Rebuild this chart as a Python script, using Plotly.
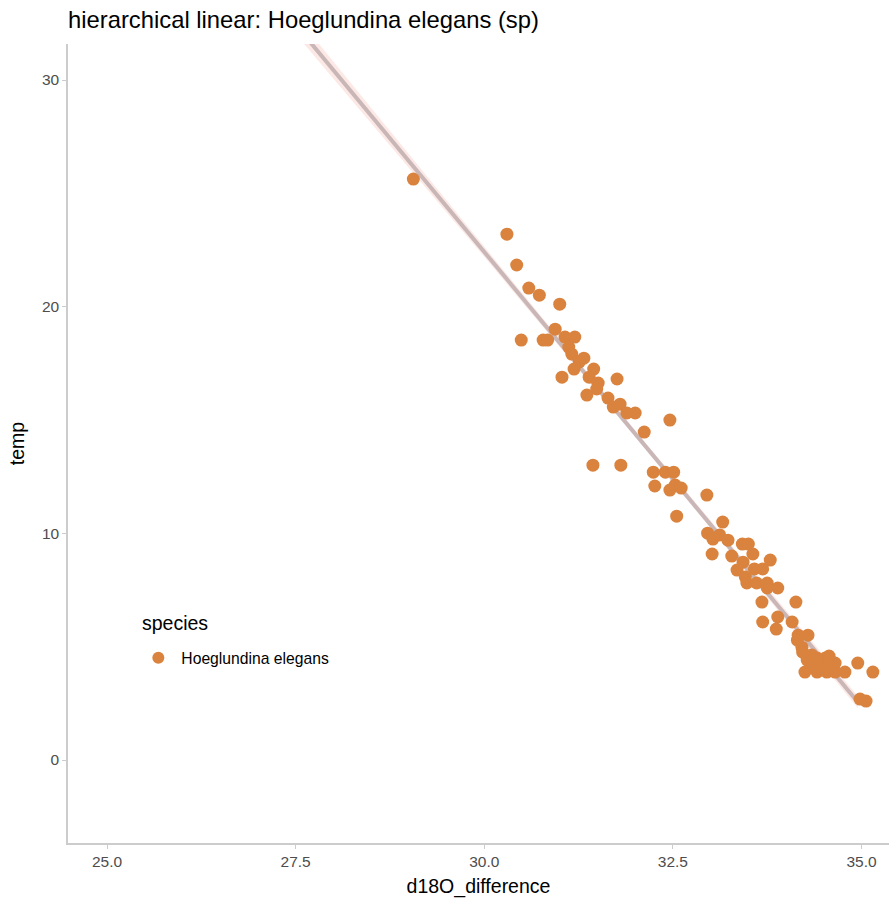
import plotly.graph_objects as go

# ---- data ----
d18O_difference = [
    29.06, 30.30, 30.43, 30.59, 30.73, 31.00, 30.94, 30.49, 30.78, 30.84,
    31.07, 31.20, 31.12, 31.16, 31.32, 31.26, 31.19, 31.45, 31.39, 31.03,
    31.51, 31.76, 31.36, 31.49, 31.64, 31.80, 31.71, 31.89, 32.00, 32.46,
    32.12, 31.44, 31.81, 32.24, 32.40, 32.51, 32.26, 32.46, 32.53, 32.61,
    32.55, 32.95, 33.16, 32.96, 33.12, 33.03, 33.23, 33.42, 33.50, 33.02,
    33.28, 33.56, 33.43, 33.79, 33.35, 33.58, 33.69, 33.46, 33.48, 33.61,
    33.75, 33.89, 33.75, 33.68, 34.13, 33.89, 33.69, 33.87, 34.08, 34.16,
    34.29, 34.15, 34.21, 34.22, 34.28, 34.41, 34.52, 34.61, 34.65, 34.36,
    34.45, 34.54, 34.25, 34.41, 34.54, 34.65, 34.78, 34.95, 35.15, 34.98,
    35.06, 34.34, 34.38, 34.57,
]
temp = [
    25.63, 23.20, 21.84, 20.82, 20.51, 20.11, 19.01, 18.53, 18.53, 18.53,
    18.66, 18.66, 18.22, 17.91, 17.73, 17.56, 17.25, 17.25, 16.89, 16.89,
    16.63, 16.81, 16.10, 16.37, 15.97, 15.70, 15.57, 15.31, 15.31, 15.00,
    14.47, 13.01, 13.01, 12.70, 12.70, 12.70, 12.09, 11.91, 12.13, 12.00,
    10.76, 11.69, 10.50, 10.01, 9.93, 9.75, 9.70, 9.53, 9.53, 9.09,
    9.00, 9.09, 8.73, 8.82, 8.38, 8.43, 8.43, 8.07, 7.81, 7.81,
    7.81, 7.59, 7.59, 6.97, 6.97, 6.31, 6.09, 5.78, 6.09, 5.51,
    5.51, 5.29, 4.98, 4.76, 4.41, 4.50, 4.50, 4.32, 4.28, 4.19,
    4.19, 4.10, 3.88, 3.88, 3.88, 3.88, 3.88, 4.28, 3.88, 2.69,
    2.60, 4.63, 4.41, 4.59,
]

# fitted line (hierarchical linear) and its ribbon
fit_x = [27.0, 28.0, 29.0, 30.0, 31.0, 32.0, 33.0, 34.0, 34.95]
fit_y = [34.45, 30.44, 26.43, 22.42, 18.41, 14.40, 10.39, 6.38, 2.56]
fit_halfwidth = [0.45, 0.38, 0.30, 0.22, 0.16, 0.14, 0.16, 0.20, 0.26]

species = "Hoeglundina elegans"
legend_title = "species"
title = "hierarchical linear: Hoeglundina elegans (sp)"

x_ticks = [25.0, 27.5, 30.0, 32.5, 35.0]
y_ticks = [0, 10, 20, 30]

FONT = "Liberation Sans, Arial, Helvetica, sans-serif"
POINT_COLOR = "#d9833f"

upper = [y + h for y, h in zip(fit_y, fit_halfwidth)]
lower = [y - h for y, h in zip(fit_y, fit_halfwidth)]

fig = go.Figure()
fig.add_trace(go.Scatter(
    x=fit_x + fit_x[::-1], y=upper + lower[::-1], mode="lines",
    fill="toself", fillcolor="rgba(250,215,210,0.55)",
    line=dict(width=0), hoverinfo="skip", showlegend=False,
))
fig.add_trace(go.Scatter(
    x=fit_x, y=fit_y, mode="lines",
    line=dict(color="#c9b6b6", width=4),
    hoverinfo="skip", showlegend=False,
))
fig.add_trace(go.Scatter(
    x=d18O_difference, y=temp, mode="markers", name=species,
    marker=dict(color=POINT_COLOR, size=13, line=dict(width=0)),
))

axis_common = dict(
    showgrid=False, zeroline=False, showline=True, automargin=False,
    linecolor="#cccccc", linewidth=1.5,
    ticks="outside", ticklen=4, tickcolor="#cccccc", tickwidth=1,
    tickfont=dict(family=FONT, size=15.5, color="#4d4d4d"),
    title_font=dict(family=FONT, size=19.5, color="#000000"),
)

fig.update_layout(
    width=891, height=904,
    paper_bgcolor="white", plot_bgcolor="white",
    margin=dict(l=68, r=2, t=44, b=61),
    title=dict(text=title, x=68 / 891, xref="container", xanchor="left",
               y=1 - 20 / 904, yref="container", yanchor="middle",
               automargin=False,
               font=dict(family=FONT, size=23.8, color="#000000")),
    xaxis=dict(range=[24.483, 35.364], tickvals=x_ticks,
               ticktext=[f"{v:.1f}" for v in x_ticks],
               title=dict(text="d18O_difference", standoff=10), **axis_common),
    yaxis=dict(range=[-3.66, 31.59], tickvals=y_ticks,
               ticktext=[str(v) for v in y_ticks],
               title=dict(text="temp", standoff=12), **axis_common),
    legend=dict(
        x=0.082, y=0.2315, xanchor="left", yanchor="middle",
        bgcolor="rgba(0,0,0,0)",
        font=dict(family=FONT, size=15.7, color="#000000"),
        itemsizing="constant", itemwidth=36,
    ),
    showlegend=True,
    annotations=[dict(
        text=legend_title, xref="paper", yref="paper",
        x=0.0877, y=0.2753, xanchor="left", yanchor="middle",
        showarrow=False, font=dict(family=FONT, size=19.5, color="#000000"),
    )],
)

fig.write_html("out.html", config={"displayModeBar": False},
               post_script="document.body.style.margin='0px';")
